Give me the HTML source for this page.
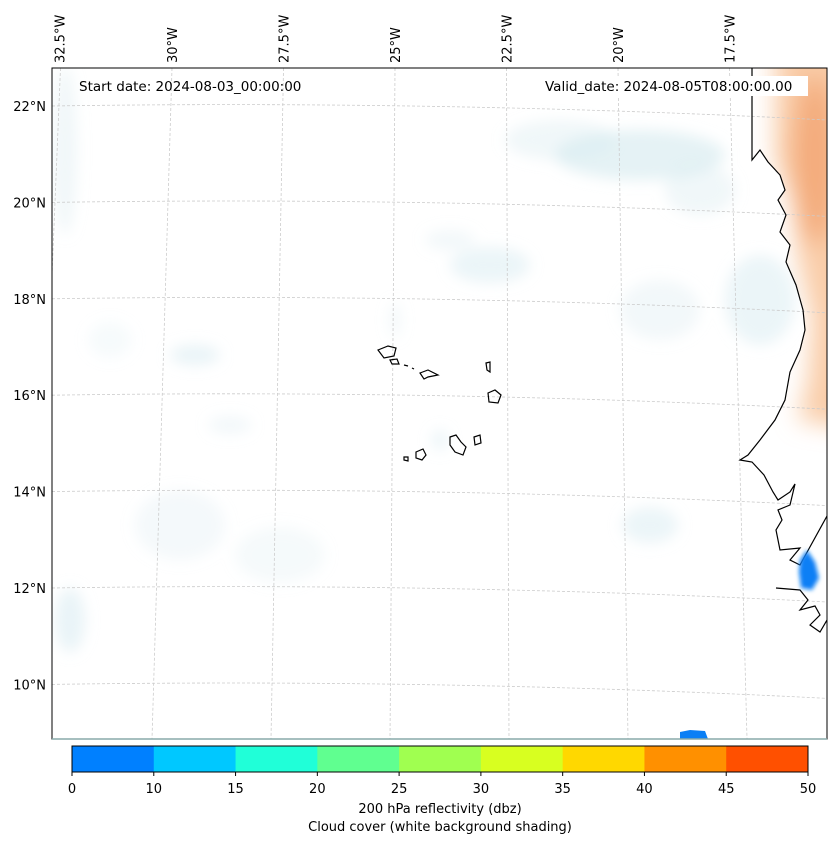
<!DOCTYPE html>
<html><head><meta charset="utf-8"><style>
body{margin:0;background:#fff;font-family:"Liberation Sans","DejaVu Sans",sans-serif;}
svg{display:block}
text{font-family:"DejaVu Sans","Liberation Sans",sans-serif;font-size:13px;fill:#000}
</style></head><body>
<svg id="chart" width="837" height="843" viewBox="0 0 837 843">
<defs>
<clipPath id="mapclip"><rect x="52" y="68" width="775" height="671"/></clipPath>
<clipPath id="landclip"><path d="M752,60 L752,160 L760,150 L768,162 L780,175 L785,190 L778,200 L786,215 L780,232 L790,245 L786,262 L796,285 L803,310 L805,330 L800,350 L790,372 L785,400 L775,420 L760,440 L748,455 L740,460 L840,460 L840,60 Z"/></clipPath>
<filter id="blur" x="-50%" y="-50%" width="200%" height="200%"><feGaussianBlur stdDeviation="7"/></filter>
<filter id="blurO" x="-50%" y="-50%" width="200%" height="200%"><feGaussianBlur stdDeviation="12"/></filter>
<filter id="blur2" x="-50%" y="-50%" width="200%" height="200%"><feGaussianBlur stdDeviation="2"/></filter>
</defs>
<rect x="0" y="0" width="837" height="843" fill="#fff"/>
<g clip-path="url(#mapclip)">
  <g id="clouds" filter="url(#blur)" fill="#d3e9ef">
    <ellipse cx="640" cy="155" rx="85" ry="25" opacity="0.6"/>
    <ellipse cx="560" cy="140" rx="55" ry="20" opacity="0.35"/>
    <ellipse cx="700" cy="190" rx="35" ry="25" opacity="0.35"/>
    <ellipse cx="490" cy="265" rx="40" ry="18" opacity="0.45"/>
    <ellipse cx="450" cy="240" rx="25" ry="10" opacity="0.3"/>
    <ellipse cx="660" cy="310" rx="40" ry="30" opacity="0.3"/>
    <ellipse cx="760" cy="300" rx="35" ry="45" opacity="0.45"/>
    <ellipse cx="195" cy="355" rx="25" ry="10" opacity="0.5"/>
    <ellipse cx="65" cy="150" rx="12" ry="85" opacity="0.35"/>
    <ellipse cx="70" cy="620" rx="15" ry="32" opacity="0.5"/>
    <ellipse cx="650" cy="525" rx="28" ry="18" opacity="0.45"/>
    <ellipse cx="180" cy="525" rx="45" ry="35" opacity="0.25"/>
    <ellipse cx="280" cy="555" rx="45" ry="28" opacity="0.22"/>
    <ellipse cx="440" cy="440" rx="8" ry="10" opacity="0.45"/>
    <ellipse cx="230" cy="425" rx="22" ry="9" opacity="0.3"/>
    <ellipse cx="395" cy="320" rx="5" ry="18" opacity="0.35"/>
    <ellipse cx="110" cy="340" rx="22" ry="18" opacity="0.2"/>
  </g>
  <g clip-path="url(#landclip)">
    <g filter="url(#blurO)">
      <path d="M775,40 L775,160 L792,200 L798,260 L812,320 L808,380 L798,420 L860,430 L860,40 Z" fill="#f8c49a" opacity="0.85"/>
      <ellipse cx="815" cy="160" rx="22" ry="85" fill="#f2a470" opacity="0.8"/>
    </g>
  </g>
  <g id="grid" stroke="#ccc" stroke-width="0.8" stroke-dasharray="3,2" fill="none"></g>
  <g id="coast" fill="none" stroke="#000" stroke-width="1.2">
    <path d="M752,68 L752,160 L760,150 L768,162 L780,175 L785,190 L778,200 L786,215 L780,232 L790,245 L786,262 L796,285 L803,310 L805,330 L800,350 L790,372 L785,400 L775,420 L760,440 L748,455 L740,460 L752,462 L764,475 L773,492 L778,500 L790,492 L795,484 L790,505 L778,510 L782,520 L776,530 L780,550 L800,548 L790,560 L800,565 L827,516"/>
    <path d="M776,588 L800,590 L808,600 L800,610 L815,606 L820,615 L810,625 L820,632 L827,620"/>
    <path d="M378,350 L388,346 L396,348 L394,356 L384,358 Z"/>
    <path d="M390,360 L397,359 L399,364 L392,364 Z"/>
    <path d="M420,373 L428,370 L438,375 L428,377 L424,379 Z"/>
    <path d="M486,363 L490,362 L490,372 L487,370 Z"/>
    <path d="M488,393 L495,390 L501,395 L498,403 L489,402 Z"/>
    <path d="M450,437 L456,435 L461,442 L466,447 L463,455 L455,452 L450,445 Z"/>
    <path d="M474,437 L480,435 L481,443 L475,445 Z"/>
    <path d="M416,452 L423,449 L426,455 L422,460 L416,458 Z"/>
    <path d="M404,457 L408,457 L408,461 L404,460 Z"/>
    <path d="M404,365 L408,366" />
    <path d="M412,368 L414,369" />
  </g>
  <g filter="url(#blur2)" fill="#0a7ff5">
    <path d="M800,560 L807,550 L815,562 L819,578 L812,590 L801,588 L799,572 Z"/>
  </g>
  <path d="M680,739 L680,732 L690,730 L705,731 L708,739 Z" fill="#0a7ff5"/>
</g>
<rect x="52" y="68" width="775" height="671" fill="none" stroke="#000" stroke-width="1"/>
<line x1="52" y1="739" x2="827" y2="739" stroke="#8aa" stroke-width="1.5"/>
<g id="labels"></g>
<rect x="538" y="76" width="270" height="20" fill="#fff"/>
<text x="79" y="91" style="font-size:13.5px">Start date: 2024-08-03_00:00:00</text>
<text x="545" y="91" style="font-size:13.5px">Valid_date: 2024-08-05T08:00:00.00</text>
<g id="cbar"></g>
<text x="440" y="813" text-anchor="middle">200 hPa reflectivity (dbz)</text>
<text x="440" y="831" text-anchor="middle">Cloud cover (white background shading)</text>
</svg>
<script>
const cbBounds=[0,10,15,20,25,30,35,40,45,50];
const cbColors=["#0080ff","#00c8ff","#20ffd8","#60ff90","#a0ff50","#d8ff20","#ffd800","#ff9000","#ff5000"];
const lonLabels=["32.5°W","30°W","27.5°W","25°W","22.5°W","20°W","17.5°W"];
const lonValues=[-32.5,-30,-27.5,-25,-22.5,-20,-17.5];
const latLabels=["22°N","20°N","18°N","16°N","14°N","12°N","10°N"];
const latValues=[22,20,18,16,14,12,10];
const NS="http://www.w3.org/2000/svg";
function mk(t,a,p){const e=document.createElementNS(NS,t);for(const k in a)e.setAttribute(k,a[k]);p.appendChild(e);return e;}
const xTop=lon=>172+(lon+30)*44.6;
const xBot=lon=>152+(lon+30)*47.6;
const yLeft=lat=>106+(22-lat)*48.2;
const grid=document.getElementById('grid');
lonValues.forEach(v=>{
  const l=mk('line',{x1:xTop(v),y1:68,x2:xBot(v),y2:739},grid);
  
  
});
latValues.forEach(v=>{
  const y=yLeft(v);
  const p=mk('path',{d:`M52,${y} Q440,${y-6} 827,${y+14}`},grid);
  
  
});
const lab=document.getElementById('labels');
lonValues.forEach((v,i)=>{
  const x=xTop(v)-6+(i==0?-1:0);
  const t=mk('text',{x:0,y:0,transform:`translate(${x+11},63) rotate(-90)`},lab);
  t.textContent=lonLabels[i];
  
  
});
latValues.forEach((v,i)=>{
  const t=mk('text',{x:46,y:yLeft(v)+5,'text-anchor':'end'},lab);
  t.textContent=latLabels[i];
  
  
});
const cb=document.getElementById('cbar');
const cx0=72,cx1=808,n=cbColors.length,w=(cx1-cx0)/n;
cbColors.forEach((c,i)=>{
  const r=mk('rect',{x:cx0+i*w,y:746,width:w+0.5,height:26,fill:c},cb);
  
  
});
mk('rect',{x:cx0,y:746,width:cx1-cx0,height:26,fill:'none',stroke:'#000','stroke-width':1},cb);
cbBounds.forEach((b,i)=>{
  const x=cx0+i*w;
  mk('line',{x1:x,y1:772,x2:x,y2:776,stroke:'#000'},cb);
  const t=mk('text',{x:x,y:793,'text-anchor':'middle'},cb);
  t.textContent=b;
  
  
});
</script>
</body></html>
